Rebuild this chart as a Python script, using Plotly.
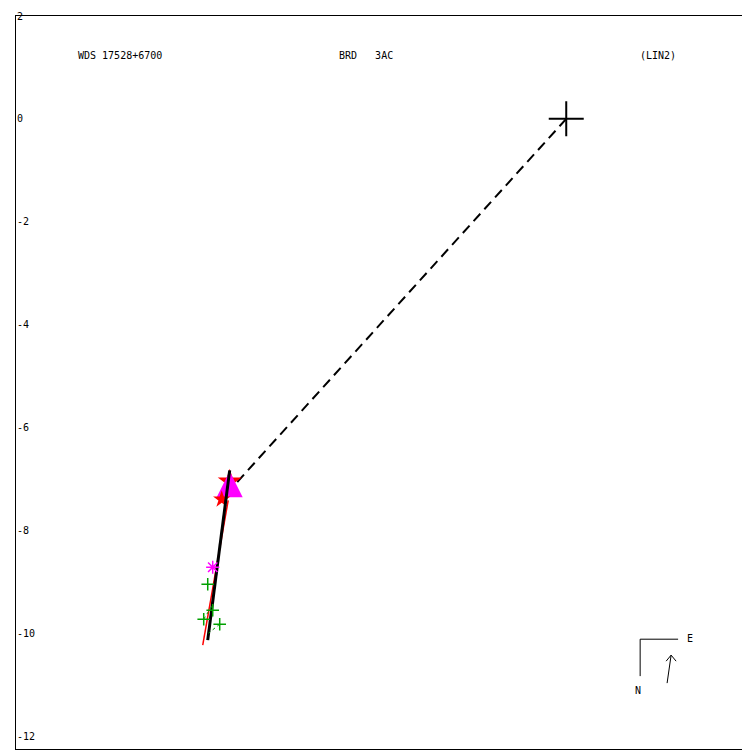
import plotly.graph_objects as go

# ---- data (arcsec-like units) ----
primary_x = [0.0]
primary_y = [0.0]

dash_x = [0.0, -6.544]
dash_y = [0.0, -7.223]

fit_x = [-6.544, -6.971]
fit_y = [-6.835, -10.136]

red_x = [-6.573, -7.068]
red_y = [-7.417, -10.233]

star_big_x = [-6.544]
star_big_y = [-7.049]
star_small_x = [-6.699]
star_small_y = [-7.398]

tri_x = [-6.544]
tri_y = [-6.854]

ast_x = [-6.874]
ast_y = [-8.718]

green_x = [-6.971, -6.874, -7.049, -6.738]
green_y = [-9.049, -9.553, -9.728, -9.825]

resid_x = [-6.738, -6.957, None, -7.049, -6.893]
resid_y = [-9.825, -10.0, None, -9.728, -9.476]

y_ticks = [2, 0, -2, -4, -6, -8, -10, -12]
y_labels = ["2", "0", "-2", "-4", "-6", "-8", "-10", "-12"]

x_range = [-10.699, 3.573]
y_range = [-12.252, 2.0]

FONT = "DejaVu Sans Mono"
GREEN = "#00a000"

fig = go.Figure()

fig.add_trace(go.Scatter(x=dash_x, y=dash_y, mode="lines",
                         line=dict(color="black", width=2, dash="10px,6px"),
                         hoverinfo="skip"))
fig.add_trace(go.Scatter(x=star_big_x, y=star_big_y, mode="markers",
                         marker=dict(symbol="star", size=18, color="red", line=dict(width=0))))
fig.add_trace(go.Scatter(x=tri_x, y=tri_y, mode="markers",
                         marker=dict(symbol="arrow-up", size=26, color="magenta", line=dict(width=0))))
fig.add_trace(go.Scatter(x=star_small_x, y=star_small_y, mode="markers",
                         marker=dict(symbol="star", size=13, color="red", line=dict(width=0))))
fig.add_trace(go.Scatter(x=red_x, y=red_y, mode="lines",
                         line=dict(color="red", width=1.5)))
fig.add_trace(go.Scatter(x=fit_x, y=fit_y, mode="lines",
                         line=dict(color="black", width=3)))
fig.add_trace(go.Scatter(x=resid_x, y=resid_y, mode="lines",
                         line=dict(color=GREEN, width=1, dash="dot")))
fig.add_trace(go.Scatter(x=ast_x, y=ast_y, mode="markers",
                         marker=dict(symbol="asterisk-open", size=11, color="magenta",
                                     line=dict(color="magenta", width=1.5))))
fig.add_trace(go.Scatter(x=green_x, y=green_y, mode="markers",
                         marker=dict(symbol="cross-thin-open", size=9, color=GREEN,
                                     line=dict(color=GREEN, width=1.5))))
fig.add_trace(go.Scatter(x=primary_x, y=primary_y, mode="markers",
                         marker=dict(symbol="cross-thin-open", size=25, color="black",
                                     line=dict(color="black", width=2))))

# compass (decoration)
fig.add_shape(type="path", xref="x", yref="y",
              path="M 1.437,-10.835 L 1.437,-10.117 L 2.175,-10.117",
              line=dict(color="black", width=1))
fig.add_shape(type="path", xref="x", yref="y",
              path="M 1.961,-10.971 L 2.039,-10.427 M 1.942,-10.544 L 2.039,-10.427 L 2.136,-10.544",
              line=dict(color="black", width=1))

ann = [
    dict(x=-9.534, y=1.223, text="WDS 17528+6700"),
    dict(x=-4.466, y=1.223, text="BRD\u00a0\u00a0\u00a03AC"),
    dict(x=1.398, y=1.223, text="(LIN2)"),
    dict(x=2.30, y=-10.097, text="E"),
    dict(x=1.30, y=-11.107, text="N"),
]
for a in ann:
    fig.add_annotation(x=a["x"], y=a["y"], text=a["text"], showarrow=False,
                       xanchor="left", yanchor="middle",
                       font=dict(family=FONT, size=10, color="black"))

fig.update_layout(
    width=750, height=750,
    margin=dict(l=8, r=8, t=8, b=9, autoexpand=False),
    paper_bgcolor="white", plot_bgcolor="white",
    showlegend=False,
    xaxis=dict(range=x_range, showgrid=False, zeroline=False, showticklabels=False,
               ticks="", showline=True, mirror=True, linecolor="black", linewidth=1,
               automargin=False),
    yaxis=dict(range=y_range, showgrid=False, zeroline=False,
               tickvals=y_ticks, ticktext=y_labels, ticks="",
               ticklabelposition="inside", ticklabeloverflow="allow",
               showline=True, linecolor="black", linewidth=1, automargin=False,
               tickfont=dict(family=FONT, size=10, color="black")),
)

fig.write_html("out.html")
